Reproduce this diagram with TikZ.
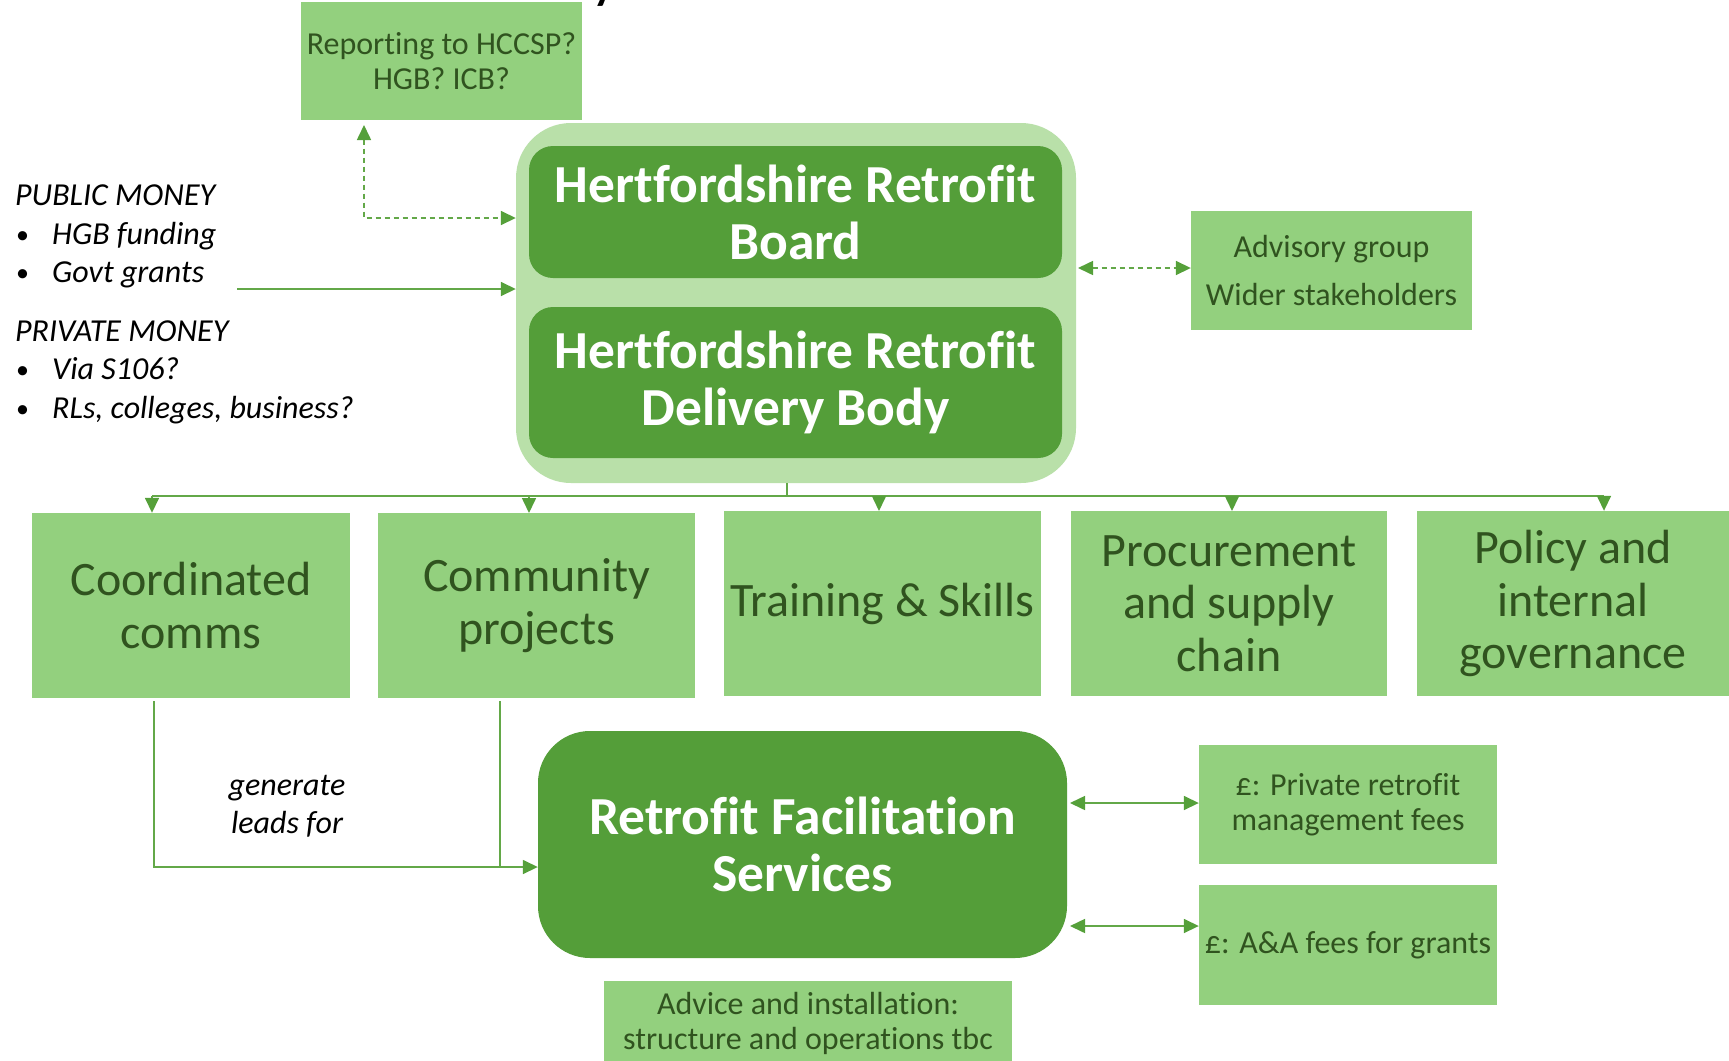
\documentclass[tikz,border=0pt]{standalone}
\usepackage{fontspec}
\setmainfont{Carlito}[Ligatures=NoCommon]
\usetikzlibrary{arrows.meta}
\definecolor{lightbox}{HTML}{93D07E}
\definecolor{darkbox}{HTML}{549E39}
\definecolor{outerbox}{HTML}{B9E0A9}
\definecolor{boxtext}{HTML}{30531F}
\definecolor{linec}{HTML}{63A848}
\definecolor{tipc}{HTML}{55A03A}
\begin{document}
\begin{tikzpicture}[x=1pt,y=-1pt,
  lbox/.style={fill=lightbox, draw=none, text=boxtext, align=center, inner sep=0pt},
  dbox/.style={fill=darkbox, draw=none, text=white, align=center, inner sep=0pt,
    font=\bfseries\fontsize{53.5}{57}\selectfont},
  smalltxt/.style={font=\fontsize{32}{35}\selectfont},
  rowtxt/.style={font=\fontsize{48}{52.5}\selectfont},
  lefttxt/.style={anchor=base west, inner sep=0pt, font=\itshape\fontsize{32}{36}\selectfont},
  bul/.style={anchor=base west, inner sep=0pt, font=\fontsize{26}{30}\selectfont},
  conn/.style={draw=linec, line width=1.6pt},
  tip/.style={-{Triangle[length=15pt,width=14pt,color=tipc]}},
  bitip/.style={{Triangle[length=15pt,width=14pt,color=tipc]}-{Triangle[length=15pt,width=14pt,color=tipc]}}
]
\useasboundingbox (0,0) rectangle (1729,1060);
\fill[white] (0,0) rectangle (1729,1060);

% cut-off title fragment
\begin{scope}
\clip (0,0) rectangle (1729,1060);
\node[anchor=base, inner sep=0pt, font=\bfseries\fontsize{44}{50}\selectfont] (title) at (604,-1) {y};
\end{scope}

% top box
\node[lbox, smalltxt, minimum width=281pt, minimum height=118pt] (report) at (441.5,61)
  {Reporting to HCCSP?\\HGB? ICB?};

% outer container
\node[fill=outerbox, draw=none, rounded corners=55pt, minimum width=560pt, minimum height=360pt] (outer) at (796,303) {};
\node[dbox, rounded corners=24pt, minimum width=533pt, minimum height=132pt] (board) at (795.5,212)
  {Hertfordshire Retrofit\\Board};
\node[dbox, rounded corners=24pt, minimum width=533pt, minimum height=151pt] (delivery) at (795.5,382.5)
  {Hertfordshire Retrofit\\Delivery Body};

% advisory
\node[lbox, font=\fontsize{32}{48}\selectfont, minimum width=281pt, minimum height=119pt] (advisory) at (1331.5,270.5)
  {Advisory group\\Wider stakeholders};

% left text
\node[lefttxt] (pub) at (15,205) {PUBLIC MONEY};
\node[bul] (b1) at (16,243) {•};
\node[lefttxt] (hgb) at (52,244) {HGB funding};
\node[bul] (b2) at (16,281) {•};
\node[lefttxt] (govt) at (52,282) {Govt grants};
\node[lefttxt] (priv) at (15,341) {PRIVATE MONEY};
\node[bul] (b3) at (16,378) {•};
\node[lefttxt] (s106) at (52,379) {Via S106?};
\node[bul] (b4) at (16,417) {•};
\node[lefttxt] (rls) at (52,418) {RLs, colleges, business?};

% row boxes
\node[lbox, rowtxt, minimum width=318pt, minimum height=185pt] (comms) at (191,605.5) {Coordinated\\comms};
\node[lbox, rowtxt, minimum width=317pt, minimum height=185pt] (community) at (536.5,605.5) {Community\\projects};
\node[lbox, rowtxt, minimum width=317pt, minimum height=185pt] (training) at (882.5,603.5) {Training \& Skills};
\node[lbox, rowtxt, minimum width=316pt, minimum height=185pt] (procure) at (1229,603.5) {Procurement\\and supply\\chain};
\node[lbox, rowtxt, minimum width=312pt, minimum height=185pt] (policy) at (1573,603.5) {Policy and\\internal\\governance};

% RFS
\node[dbox, rounded corners=52pt, minimum width=529pt, minimum height=227pt] (rfs) at (802.5,844.5)
  {Retrofit Facilitation\\Services};

% fee boxes
\node[lbox, smalltxt, minimum width=298pt, minimum height=119pt] (private) at (1348,804.5)
  {£: Private retrofit\\management fees};
\node[lbox, smalltxt, minimum width=298pt, minimum height=120pt] (aa) at (1348,945)
  {£: A\&A fees for grants};

% advice box
\node[lbox, smalltxt, minimum width=408pt, minimum height=84pt] (advice) at (808,1023)
  {Advice and installation:\\structure and operations tbc};

% generate leads label
\node[inner sep=0pt, align=center, font=\itshape\fontsize{32}{38}\selectfont] (leads) at (287,806)
  {generate\\leads for};

% ---- connectors ----
\coordinate (fund) at (237,289);
\draw[conn, tip] (fund) -- (fund -| outer.west);

\coordinate (repfoot) at (364,125);
\coordinate (repturn) at (364,218);
\draw[conn, dash pattern=on 5pt off 4pt, bitip] (repfoot) -- (repturn) -- (repturn -| outer.west);
\coordinate (advL) at (1078,268);
\draw[conn, dash pattern=on 5pt off 4pt, bitip] (advL) -- (advL -| advisory.west);

% distribution
\coordinate (hub) at (787,496);
\draw[conn] (outer.south -| hub) -- (hub);
\coordinate (dl) at (152,496);
\coordinate (dr) at (1604,496);
\draw[conn] (dl) -- (dr);
\draw[conn, tip] (dl) -- (dl |- comms.north);
\draw[conn, tip] (529,496) -- (529,513);
\draw[conn, tip] (879,496) -- (879,511);
\draw[conn, tip] (1232,496) -- (1232,511);
\draw[conn, tip] (dr) -- (dr |- policy.north);

% leads
\coordinate (lc) at (154,701);
\coordinate (lcb) at (154,867);
\coordinate (lp) at (500,701);
\coordinate (lpb) at (500,867);
\draw[conn, tip] (lc) -- (lcb) -- (lcb -| rfs.west);
\draw[conn] (lp) -- (lpb);

% fees
\coordinate (f1) at (1070,803);
\coordinate (f2) at (1070,926);
\draw[conn, bitip] (f1) -- (f1 -| private.west);
\draw[conn, bitip] (f2) -- (f2 -| aa.west);
\end{tikzpicture}
\end{document}
